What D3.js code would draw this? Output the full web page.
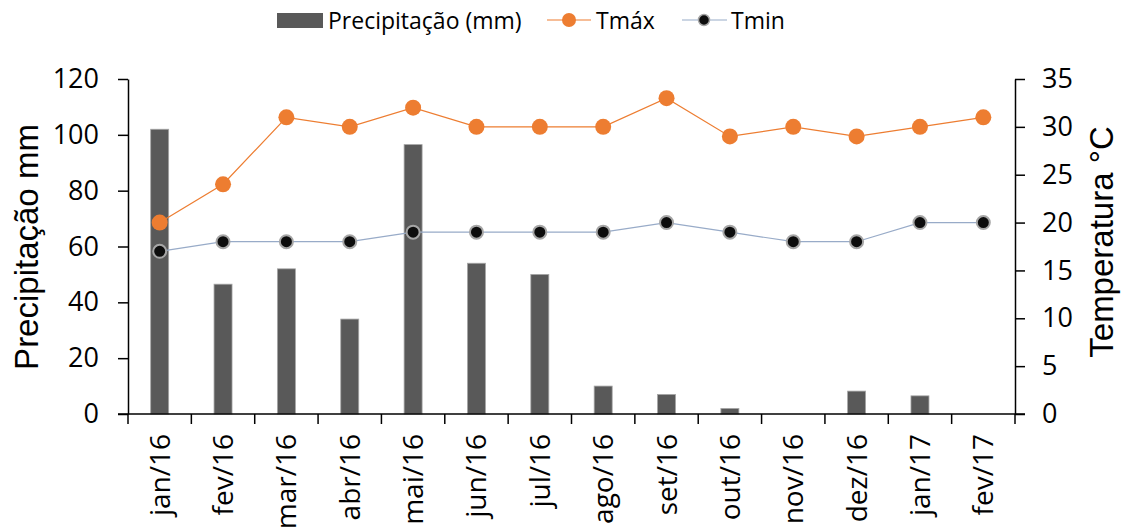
<!DOCTYPE html>
<html>
<head>
<meta charset="utf-8">
<script src="https://cdn.jsdelivr.net/npm/d3@7"></script>
<style>
  body { margin: 0; background: #fff; }
  svg { display: block; }
</style>
</head>
<body>
<svg id="chart" width="1125" height="528"></svg>
<script>
// chart data
const months = ["jan/16", "fev/16", "mar/16", "abr/16", "mai/16", "jun/16", "jul/16",
  "ago/16", "set/16", "out/16", "nov/16", "dez/16", "jan/17", "fev/17"];
const precip = [102, 46.5, 52, 34, 96.5, 54, 50, 10, 7, 2, 0, 8.2, 6.5, 0];
const tmax = [20, 24, 31, 30, 32, 30, 30, 30, 33, 29, 30, 29, 30, 31];
const tmin = [17, 18, 18, 18, 19, 19, 19, 19, 20, 19, 18, 18, 20, 20];
const precipTicks = [0, 20, 40, 60, 80, 100, 120];
const tempTicks = [0, 5, 10, 15, 20, 25, 30, 35];

const svg = d3.select("#chart");
const margin = { left: 128, right: 110, top: 79, bottom: 114 };
const W = 1125, H = 528;
const x0 = margin.left, x1 = W - margin.right;
const y0 = H - margin.bottom, y1 = margin.top;
const tickFont = "'Open Sans', sans-serif";

const x = d3.scaleBand().domain(months).range([x0, x1]);
const yP = d3.scaleLinear().domain([0, 120]).range([y0, y1]);
const yT = d3.scaleLinear().domain([0, 35]).range([y0, y1]);

// bars
svg.append("g").selectAll("rect")
  .data(months.map((m, i) => ({ m, v: precip[i] })).filter(d => d.v > 0))
  .enter().append("rect")
  .attr("x", d => x(d.m) + x.bandwidth() / 2 - 9)
  .attr("width", 18)
  .attr("y", d => yP(d.v))
  .attr("height", d => y0 - yP(d.v))
  .style("fill", "#595959")
  .style("stroke", "#a6a6a6")
  .style("stroke-width", 0.8);

// axes
const styleAxis = g => {
  g.select(".domain").attr("stroke", "#000").attr("stroke-width", 1.5);
  g.selectAll(".tick line").attr("stroke", "#000").attr("stroke-width", 1.5);
  g.selectAll("text").style("font-family", tickFont).style("font-size", "27px").attr("fill", "#000");
};

svg.append("g")
  .attr("transform", `translate(${x0},0)`)
  .call(d3.axisLeft(yP).tickValues(precipTicks).tickSize(10).tickPadding(19).tickSizeOuter(0))
  .call(styleAxis);

svg.append("g")
  .attr("transform", `translate(${x1},0)`)
  .call(d3.axisRight(yT).tickValues(tempTicks).tickSize(10).tickPadding(17).tickSizeOuter(0))
  .call(styleAxis);

// x axis with ticks at category boundaries
const xAxis = svg.append("g").attr("transform", `translate(0,${y0})`);
xAxis.append("line")
  .attr("x1", x0 - 10).attr("x2", x1 + 10)
  .attr("stroke", "#000").attr("stroke-width", 1.5);
xAxis.selectAll("line.b")
  .data(months.concat(["end"]))
  .enter().append("line").attr("class", "b")
  .attr("x1", (d, i) => x0 + i * x.step()).attr("x2", (d, i) => x0 + i * x.step())
  .attr("y1", 0).attr("y2", 10)
  .attr("stroke", "#000").attr("stroke-width", 1.5);
xAxis.selectAll("text")
  .data(months)
  .enter().append("text")
  .attr("transform", d => `translate(${x(d) + x.bandwidth() / 2 + 10},20) rotate(-90)`)
  .attr("text-anchor", "end")
  .style("font-family", tickFont)
  .style("font-size", "28px")
  .text(d => d);

// lines
const lineT = d3.line().x((d, i) => x(months[i]) + x.bandwidth() / 2).y(d => yT(d));

svg.append("path").datum(tmin)
  .attr("d", lineT).attr("fill", "none")
  .attr("stroke", "#98abc8").attr("stroke-width", 1.2);
svg.append("path").datum(tmax)
  .attr("d", lineT).attr("fill", "none")
  .attr("stroke", "#ed7d31").attr("stroke-width", 1.2);

svg.append("g").selectAll("circle")
  .data(tmin).enter().append("circle")
  .attr("cx", (d, i) => x(months[i]) + x.bandwidth() / 2)
  .attr("cy", d => yT(d)).attr("r", 6.5)
  .attr("fill", "#0d0d0d").attr("stroke", "#a6a6a6").attr("stroke-width", 2);
svg.append("g").selectAll("circle")
  .data(tmax).enter().append("circle")
  .attr("cx", (d, i) => x(months[i]) + x.bandwidth() / 2)
  .attr("cy", d => yT(d)).attr("r", 8)
  .attr("fill", "#ed7d31");

// axis titles
svg.append("text")
  .attr("transform", `translate(38,247) rotate(-90)`)
  .attr("text-anchor", "middle")
  .style("font-family", "'Liberation Sans', Arial, sans-serif")
  .style("font-size", "33px")
  .text("Precipitação mm");
svg.append("text")
  .attr("transform", `translate(1113,242) rotate(-90)`)
  .attr("text-anchor", "middle")
  .style("font-family", "'Liberation Sans', Arial, sans-serif")
  .style("font-size", "33px")
  .text("Temperatura °C");

// legend
const lg = svg.append("g").style("font-family", tickFont).style("font-size", "23px");
lg.append("rect").attr("x", 277).attr("y", 13).attr("width", 46).attr("height", 15).attr("fill", "#595959");
lg.append("text").attr("x", 328).attr("y", 29).text("Precipitação (mm)");
lg.append("line").attr("x1", 547).attr("x2", 591).attr("y1", 20).attr("y2", 20)
  .attr("stroke", "#ed7d31").attr("stroke-width", 1.2);
lg.append("circle").attr("cx", 569).attr("cy", 20).attr("r", 7).attr("fill", "#ed7d31");
lg.append("text").attr("x", 596).attr("y", 29).text("Tmáx");
lg.append("line").attr("x1", 682).attr("x2", 727).attr("y1", 20).attr("y2", 20)
  .attr("stroke", "#98abc8").attr("stroke-width", 1.2);
lg.append("circle").attr("cx", 704).attr("cy", 20).attr("r", 5.5)
  .attr("fill", "#0d0d0d").attr("stroke", "#a6a6a6").attr("stroke-width", 1.5);
lg.append("text").attr("x", 731).attr("y", 29).text("Tmin");
</script>
</body>
</html>
